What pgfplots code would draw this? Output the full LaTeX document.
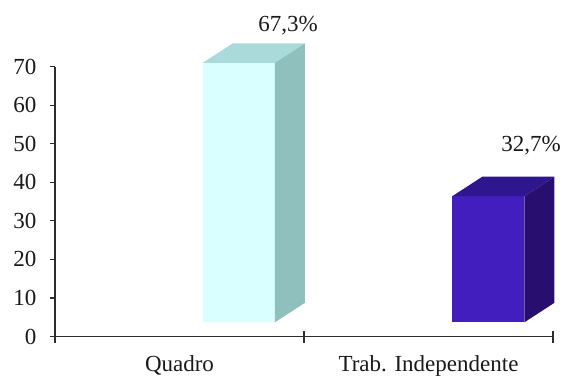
\documentclass[border=0pt]{standalone}
\usepackage{fontspec}
\setmainfont{Liberation Serif}
\usepackage{pgfplots}
\pgfplotsset{compat=1.18}
\definecolor{qfront}{RGB}{218,255,255}
\definecolor{qtop}{RGB}{170,218,218}
\definecolor{qside}{RGB}{142,192,190}
\definecolor{tfront}{RGB}{66,30,190}
\definecolor{ttop}{RGB}{46,22,142}
\definecolor{tside}{RGB}{40,14,110}
\definecolor{axc}{RGB}{45,45,45}
\definecolor{txt}{RGB}{25,25,25}
% data values (percent)
\def\vQ{67.3}
\def\vT{32.7}
% 3D geometry (axis units)
\def\base{3.7}
\def\dx{0.1205}
\def\dy{5.06}
\def\hw{0.145}
\def\cQ{0.7385}
\def\cT{1.7405}
\pgfmathsetmacro\qL{\cQ-\hw}
\pgfmathsetmacro\qR{\cQ+\hw}
\pgfmathsetmacro\qLL{\qL+\dx}
\pgfmathsetmacro\qRR{\qR+\dx}
\pgfmathsetmacro\qTop{\base+\vQ}
\pgfmathsetmacro\qTopB{\qTop+\dy}
\pgfmathsetmacro\tL{\cT-\hw}
\pgfmathsetmacro\tR{\cT+\hw}
\pgfmathsetmacro\tLL{\tL+\dx}
\pgfmathsetmacro\tRR{\tR+\dx}
\pgfmathsetmacro\tTop{\base+\vT}
\pgfmathsetmacro\tTopB{\tTop+\dy}
\pgfmathsetmacro\bB{\base+\dy}
\begin{document}
\begin{tikzpicture}
\useasboundingbox (-55pt,-39.5pt) rectangle (507pt,336.5pt);
\begin{axis}[
  scale only axis,
  width=498pt, height=269.8pt,
  xmin=0, xmax=2, ymin=0, ymax=70,
  clip=false,
  axis x line*=bottom, axis y line*=left,
  axis line style={axc, line width=1.3pt},
  every tick/.style={axc, line width=1.2pt},
  font=\fontsize{23pt}{27pt}\selectfont,
  /pgf/number format/assume math mode=true,
  major tick length=12pt,
  ytick=\empty,
  extra y ticks={0,10,20,30,40,50,60,70},
  extra y tick style={major tick length=5pt, ytick align=outside,
    yticklabel style={txt, xshift=-10pt}},
  xtick={0,1,2},
  xticklabels={},
  xtick align=center,
  extra x ticks={0.5,1.5},
  extra x tick labels={Quadro, Trab. Independente},
  extra x tick style={major tick length=0pt, xticklabel style={txt, anchor=base, yshift=-34.5pt}},
]
% Quadro
\addplot[draw=none, fill=qfront] coordinates {(\qL,\base) (\qR,\base) (\qR,\qTop) (\qL,\qTop)} --cycle;
\addplot[draw=none, fill=qtop] coordinates {(\qL,\qTop) (\qR,\qTop) (\qRR,\qTopB) (\qLL,\qTopB)} --cycle;
\addplot[draw=none, fill=qside] coordinates {(\qR,\base) (\qRR,\bB) (\qRR,\qTopB) (\qR,\qTop)} --cycle;
% Trab. Independente
\addplot[draw=none, fill=tfront] coordinates {(\tL,\base) (\tR,\base) (\tR,\tTop) (\tL,\tTop)} --cycle;
\addplot[draw=none, fill=ttop] coordinates {(\tL,\tTop) (\tR,\tTop) (\tRR,\tTopB) (\tLL,\tTopB)} --cycle;
\addplot[draw=none, fill=tside] coordinates {(\tR,\base) (\tRR,\bB) (\tRR,\tTopB) (\tR,\tTop)} --cycle;
% value labels
\addplot[draw=none, mark=none, nodes near coords, point meta=explicit symbolic,
  every node near coord/.style={anchor=base, txt, inner sep=0pt, font=\fontsize{23pt}{27pt}\selectfont}]
  coordinates {(0.936,79.1) [67,3\%] (1.912,47.95) [32,7\%]};
\end{axis}
\end{tikzpicture}
\end{document}
